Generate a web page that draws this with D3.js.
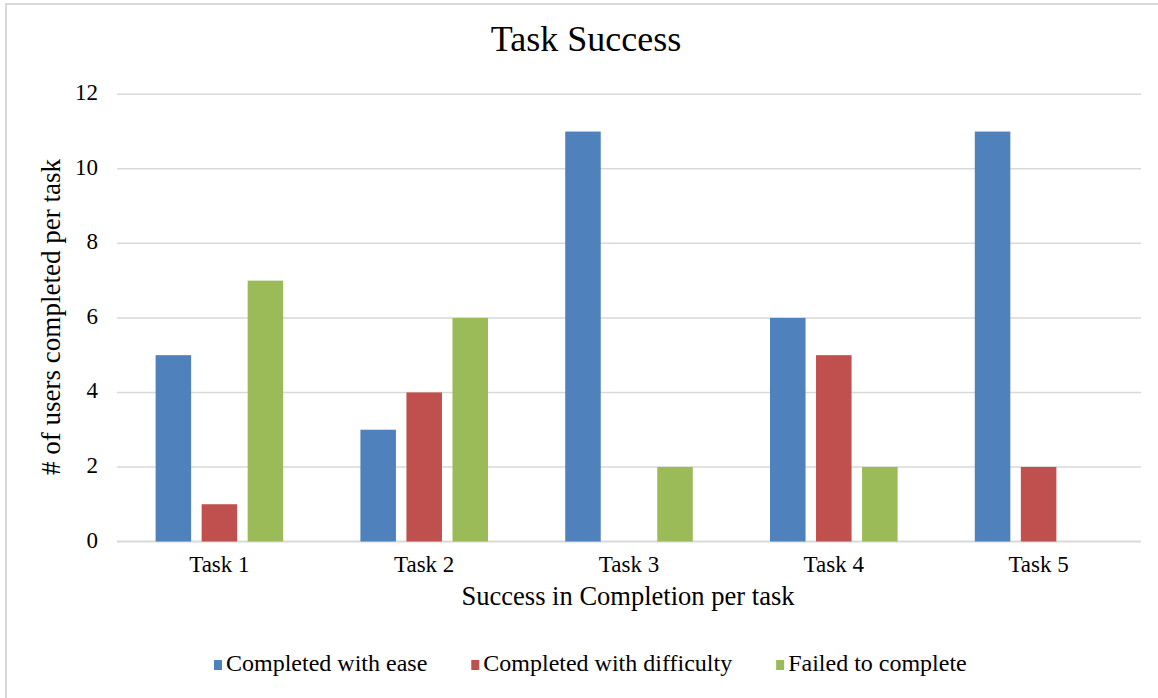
<!DOCTYPE html>
<html>
<head>
<meta charset="utf-8">
<script src="https://cdn.jsdelivr.net/npm/d3@7"></script>
<style>
  html, body { margin: 0; padding: 0; background: #ffffff; }
  svg { display: block; }
  text { font-family: "Liberation Serif", "Times New Roman", serif; fill: #000; }
</style>
</head>
<body>
<svg id="chart" width="1158" height="698"></svg>
<script>
// Tasks along the x axis
const tasks = ["Task 1", "Task 2", "Task 3", "Task 4", "Task 5"];
// Outcome series
const seriesNames = ["Completed with ease", "Completed with difficulty", "Failed to complete"];
const seriesColors = ["#4f81bd", "#c0504d", "#9bbb59"];
// Number of users per task for each outcome
const easeValues = [5, 3, 11, 6, 11];
const difficultyValues = [1, 4, 0, 5, 2];
const failedValues = [7, 6, 2, 2, 0];
// y-axis ticks
const yTicks = [0, 2, 4, 6, 8, 10, 12];

const seriesValues = [easeValues, difficultyValues, failedValues];

const svg = d3.select("#chart");

// Outer chart border (runs past the right and bottom edges)
svg.append("rect")
  .attr("x", 6).attr("y", 4)
  .attr("width", 1200).attr("height", 760)
  .attr("fill", "#ffffff")
  .attr("stroke", "#d9d9d9")
  .attr("stroke-width", 2);

const plot = { left: 117, right: 1141, top: 94.3, bottom: 541.5 };

const x0 = d3.scaleBand()
  .domain(tasks)
  .range([plot.left, plot.right])
  .paddingInner(0.377)
  .paddingOuter(0.1885);

const x1 = d3.scaleBand()
  .domain(seriesNames)
  .range([0, x0.bandwidth()])
  .paddingInner(0.228)
  .paddingOuter(0);

const y = d3.scaleLinear()
  .domain([0, 12])
  .range([plot.bottom, plot.top]);

// Horizontal gridlines
svg.append("g")
  .selectAll("line")
  .data(yTicks)
  .join("line")
  .attr("x1", plot.left).attr("x2", plot.right)
  .attr("y1", d => y(d)).attr("y2", d => y(d))
  .attr("stroke", "#d9d9d9")
  .attr("stroke-width", d => d === 0 ? 2 : 1.5);

// Y tick labels
svg.append("g")
  .selectAll("text")
  .data(yTicks)
  .join("text")
  .attr("x", 98)
  .attr("y", d => y(d) + 6)
  .attr("text-anchor", "end")
  .attr("font-size", 23)
  .text(d => d);

// Bars
const groups = svg.append("g")
  .selectAll("g")
  .data(tasks)
  .join("g")
  .attr("transform", d => `translate(${x0(d)},0)`);

groups.selectAll("rect")
  .data((t, i) => seriesNames.map((s, k) => ({ s, k, v: seriesValues[k][i] })))
  .join("rect")
  .attr("x", d => x1(d.s))
  .attr("width", x1.bandwidth())
  .attr("y", d => y(d.v))
  .attr("height", d => y(0) - y(d.v))
  .attr("fill", d => seriesColors[d.k]);

// X tick labels
svg.append("g")
  .selectAll("text")
  .data(tasks)
  .join("text")
  .attr("x", d => x0(d) + x0.bandwidth() / 2)
  .attr("y", 572)
  .attr("text-anchor", "middle")
  .attr("font-size", 23)
  .text(d => d);

// Title
svg.append("text")
  .attr("x", 586).attr("y", 51)
  .attr("text-anchor", "middle")
  .attr("font-size", 36)
  .text("Task Success");

// Axis titles
svg.append("text")
  .attr("transform", "translate(60,317) rotate(-90)")
  .attr("text-anchor", "middle")
  .attr("font-size", 27)
  .attr("textLength", 316)
  .attr("lengthAdjust", "spacingAndGlyphs")
  .text("# of users completed per task");

svg.append("text")
  .attr("x", 628).attr("y", 605)
  .attr("text-anchor", "middle")
  .attr("font-size", 27)
  .attr("textLength", 333)
  .attr("lengthAdjust", "spacingAndGlyphs")
  .text("Success in Completion per task");

// Legend
const legend = svg.append("g");
let lx = 214;
seriesNames.forEach((name, k) => {
  legend.append("rect")
    .attr("x", lx).attr("y", 660)
    .attr("width", 8).attr("height", 10)
    .attr("fill", seriesColors[k]);
  const t = legend.append("text")
    .attr("x", lx + 12).attr("y", 671)
    .attr("font-size", 24)
    .text(name);
  lx += 12 + t.node().getComputedTextLength() + 44;
});
</script>
</body>
</html>
